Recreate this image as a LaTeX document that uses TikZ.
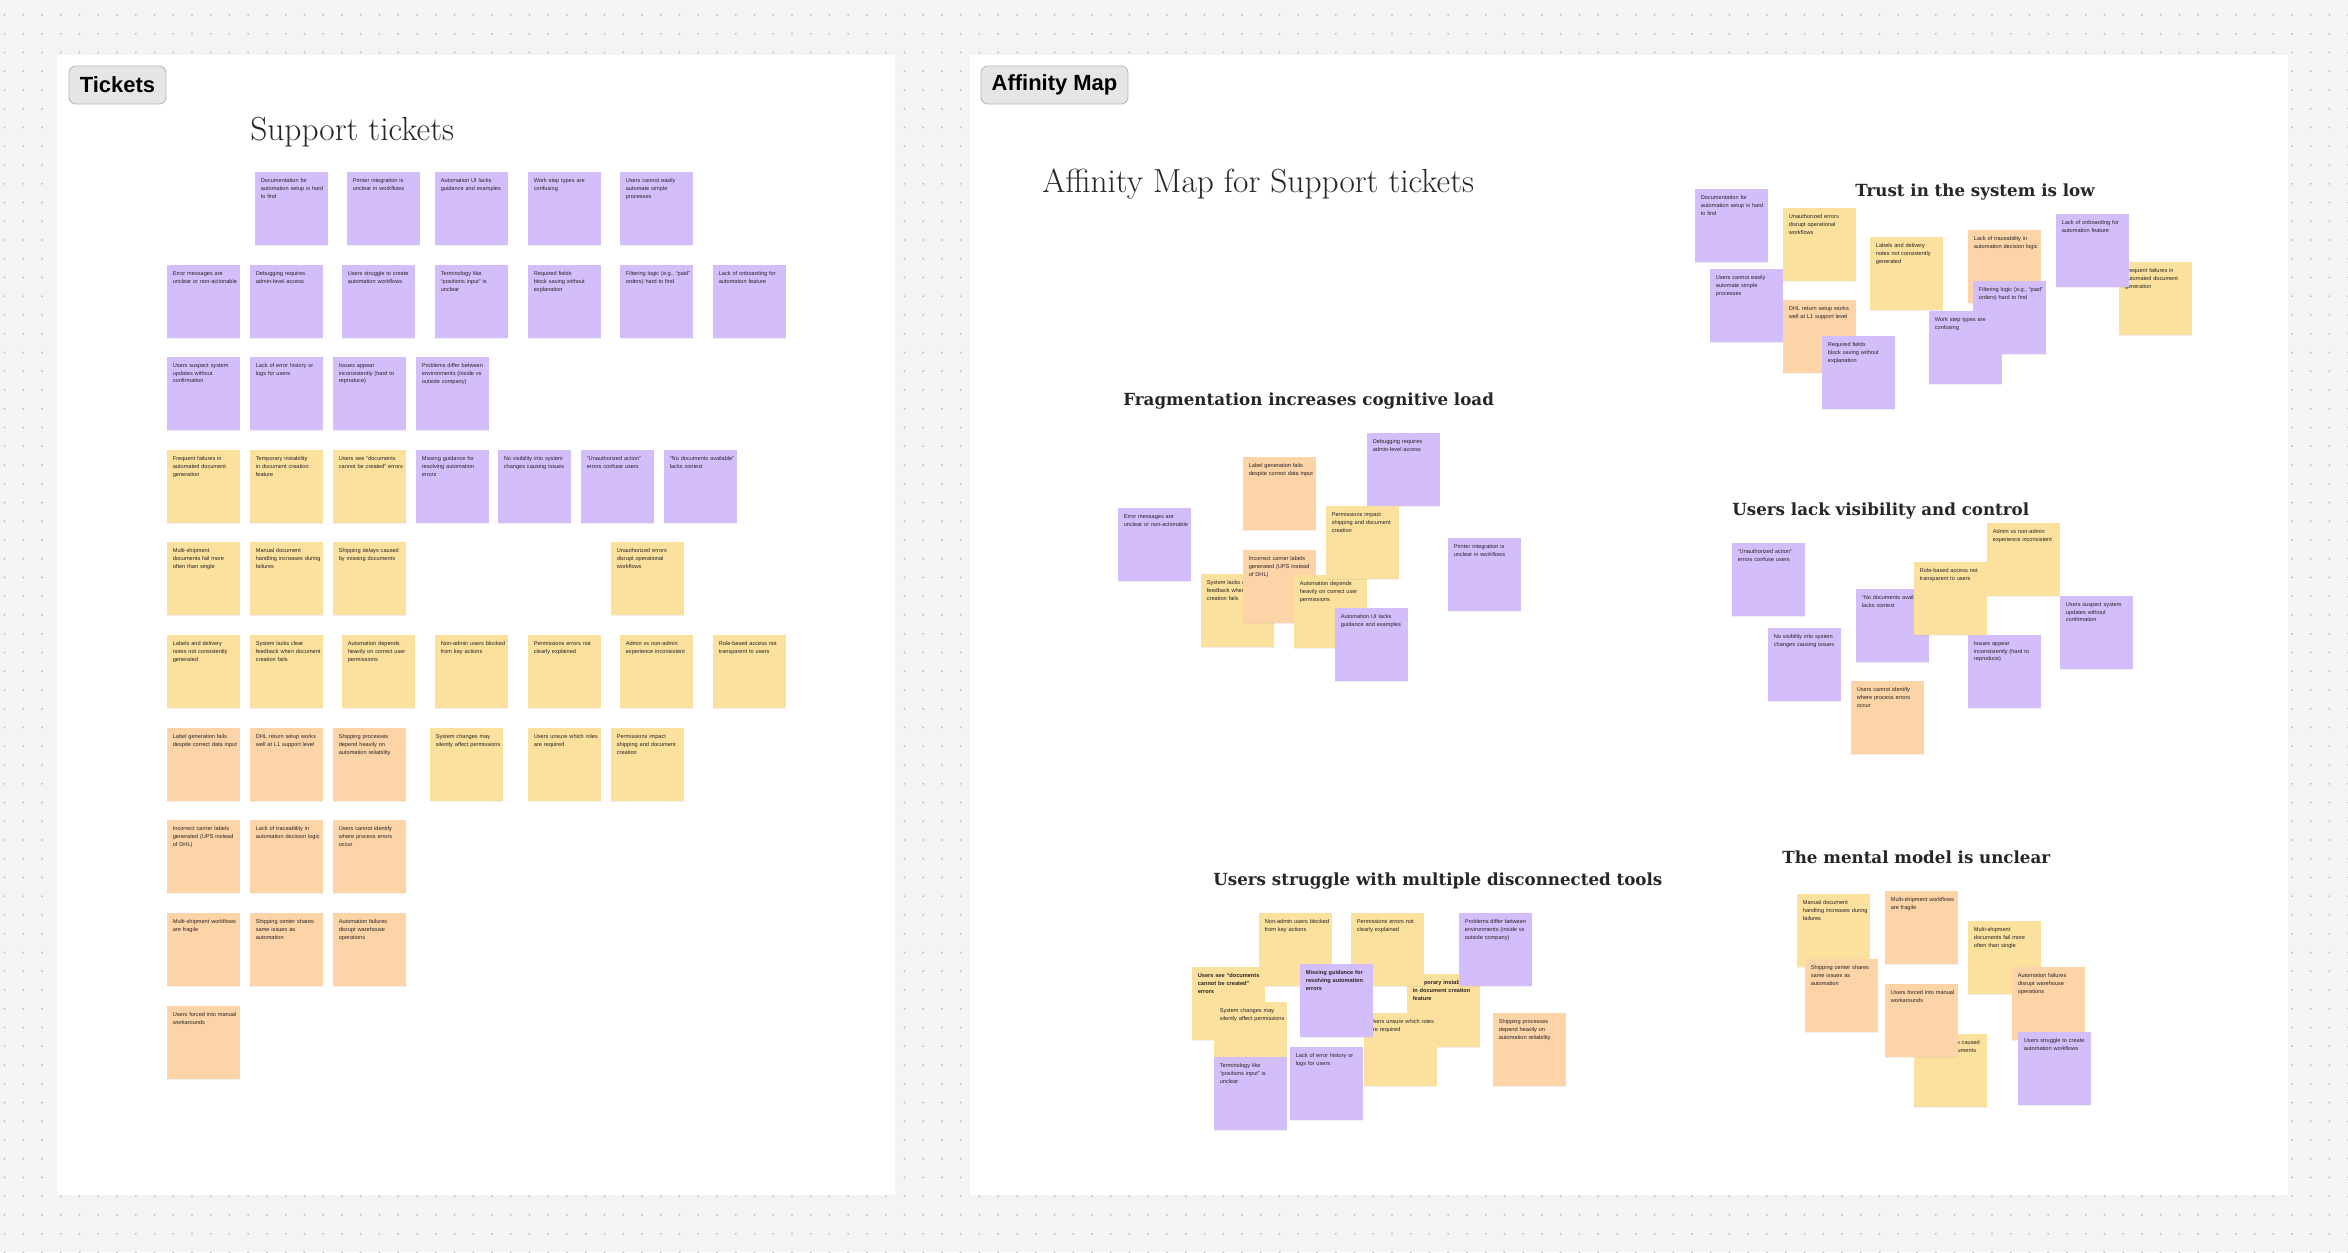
\documentclass[tikz,border=0pt]{standalone}
\usepackage{fontspec}
\newfontfamily\notefont{Liberation Sans}
\newfontfamily\tagfont{Liberation Sans}
\newfontfamily\headfont{DejaVu Serif}
\usetikzlibrary{shadows}
\hyphenpenalty=10000
\exhyphenpenalty=10000

\definecolor{bggray}{HTML}{F4F4F4}
\definecolor{dotgray}{HTML}{C4C4C4}
\definecolor{purp}{HTML}{D3BEFB}
\definecolor{yell}{HTML}{FCE09E}
\definecolor{orng}{HTML}{FDD3A8}
\definecolor{tagfill}{HTML}{E6E6E6}
\definecolor{tagline}{HTML}{B8B8B8}
\definecolor{ink}{HTML}{262626}

\tikzset{
  stickynote/.style={anchor=north west, minimum width=1.46cm, minimum height=1.46cm, inner sep=0pt,
    drop shadow={shadow xshift=0pt, shadow yshift=-0.6pt, opacity=0.12}},
  notetext/.style={anchor=north west, inner sep=0pt, text width=37.2pt, align=left, text=ink,
    font=\notefont\fontsize{3.2}{4.3}\selectfont},
  frametag/.style={rounded corners=0.14cm, fill=tagfill, draw=tagline, line width=0.5pt,
    minimum height=0.76cm, font=\tagfont\bfseries\fontsize{12.5}{14}\selectfont},
  boardtitle/.style={anchor=base west, inner sep=0pt, text=ink, font=\fontsize{19}{22}\selectfont},
  clustertitle/.style={anchor=base west, inner sep=0pt, text=ink, font=\headfont\bfseries\fontsize{9.5}{11}\selectfont},
}

% name, x, y, colour, text
\newcommand{\sticky}[5]{%
  \node[stickynote, fill=#4] (#1) at (#2,#3) {};
  \node[notetext] (#1-t) at ([xshift=0.11cm, yshift=-0.13cm]#1.north west) {#5};
}

\begin{document}
\begin{tikzpicture}[x=0.02cm, y=-0.02cm]
 \useasboundingbox (0,0) rectangle (2348,1252);
 % board with dot grid
 \fill[bggray] (0,0) rectangle (2348,1252);
 \foreach \j in {0,...,66}
   \fill[dotgray] \foreach \i in {0,...,125} {(4.5+18.75*\i,15+18.75*\j) circle (1.1)};
 % frames
 \fill[white] (57,55) rectangle (895,1195);
 \fill[white] (970,55) rectangle (2288,1195);
 \node[frametag, minimum width=1.94cm] (ticketsTag) at (117.5,85) {Tickets};
 \node[frametag, minimum width=2.94cm] (affinityTag) at (1054.5,85) {Affinity Map};
 \node[boardtitle] (ticketsTitle) at (250,140) {Support tickets};
 \node[boardtitle] (affinityTitle) at (1042,192) {Affinity Map for Support tickets};

 % tickets, row by row
 \sticky{tk1}{255}{172}{purp}{Documentation for automation setup is hard to find}
 \sticky{tk2}{347}{172}{purp}{Printer integration is unclear in workflows}
 \sticky{tk3}{435}{172}{purp}{Automation UI lacks guidance and examples}
 \sticky{tk4}{528}{172}{purp}{Work step types are confusing}
 \sticky{tk5}{620}{172}{purp}{Users cannot easily automate simple processes}

 \sticky{tk6}{167}{265}{purp}{Error messages are unclear or non-actionable}
 \sticky{tk7}{250}{265}{purp}{Debugging requires admin-level access}
 \sticky{tk8}{342}{265}{purp}{Users struggle to create automation workflows}
 \sticky{tk9}{435}{265}{purp}{Terminology like “positions input” is unclear}
 \sticky{tk10}{528}{265}{purp}{Required fields block saving without explanation}
 \sticky{tk11}{620}{265}{purp}{Filtering logic (e.g., “paid” orders) hard to find}
 \sticky{tk12}{713}{265}{purp}{Lack of onboarding for automation feature}

 \sticky{tk13}{167}{357}{purp}{Users suspect system updates without confirmation}
 \sticky{tk14}{250}{357}{purp}{Lack of error history or logs for users}
 \sticky{tk15}{333}{357}{purp}{Issues appear inconsistently (hard to reproduce)}
 \sticky{tk16}{416}{357}{purp}{Problems differ between environments (inside vs outside company)}

 \sticky{tk17}{167}{450}{yell}{Frequent failures in automated document generation}
 \sticky{tk18}{250}{450}{yell}{Temporary instability in document creation feature}
 \sticky{tk19}{333}{450}{yell}{Users see “documents cannot be created” errors}
 \sticky{tk20}{416}{450}{purp}{Missing guidance for resolving automation errors}
 \sticky{tk21}{498}{450}{purp}{No visibility into system changes causing issues}
 \sticky{tk22}{581}{450}{purp}{“Unauthorized action” errors confuse users}
 \sticky{tk23}{664}{450}{purp}{“No documents available” lacks context}

 \sticky{tk24}{167}{542}{yell}{Multi-shipment documents fail more often than single}
 \sticky{tk25}{250}{542}{yell}{Manual document handling increases during failures}
 \sticky{tk26}{333}{542}{yell}{Shipping delays caused by missing documents}
 \sticky{tk27}{611}{542}{yell}{Unauthorized errors disrupt operational workflows}

 \sticky{tk28}{167}{635}{yell}{Labels and delivery notes not consistently generated}
 \sticky{tk29}{250}{635}{yell}{System lacks clear feedback when document creation fails}
 \sticky{tk30}{342}{635}{yell}{Automation depends heavily on correct user permissions}
 \sticky{tk31}{435}{635}{yell}{Non-admin users blocked from key actions}
 \sticky{tk32}{528}{635}{yell}{Permissions errors not clearly explained}
 \sticky{tk33}{620}{635}{yell}{Admin vs non-admin experience inconsistent}
 \sticky{tk34}{713}{635}{yell}{Role-based access not transparent to users}

 \sticky{tk35}{167}{728}{orng}{Label generation fails despite correct data input}
 \sticky{tk36}{250}{728}{orng}{DHL return setup works well at L1 support level}
 \sticky{tk37}{333}{728}{orng}{Shipping processes depend heavily on automation reliability}
 \sticky{tk38}{430}{728}{yell}{System changes may silently affect permissions}
 \sticky{tk39}{528}{728}{yell}{Users unsure which roles are required}
 \sticky{tk40}{611}{728}{yell}{Permissions impact shipping and document creation}

 \sticky{tk41}{167}{820}{orng}{Incorrect carrier labels generated (UPS instead of DHL)}
 \sticky{tk42}{250}{820}{orng}{Lack of traceability in automation decision logic}
 \sticky{tk43}{333}{820}{orng}{Users cannot identify where process errors occur}

 \sticky{tk44}{167}{913}{orng}{Multi-shipment workflows are fragile}
 \sticky{tk45}{250}{913}{orng}{Shipping center shares same issues as automation}
 \sticky{tk46}{333}{913}{orng}{Automation failures disrupt warehouse operations}

 \sticky{tk47}{167}{1006}{orng}{Users forced into manual workarounds}

 % cluster: trust
 \node[clustertitle] (trustTitle) at (1855,196) {Trust in the system is low};
 \sticky{tr1}{1695}{189}{purp}{Documentation for automation setup is hard to find}
 \sticky{tr2}{1783}{208}{yell}{Unauthorized errors disrupt operational workflows}
 \sticky{tr3}{1710}{269}{purp}{Users cannot easily automate simple processes}
 \sticky{tr4}{1783}{300}{orng}{DHL return setup works well at L1 support level}
 \sticky{tr5}{1822}{336}{purp}{Required fields block saving without explanation}
 \sticky{tr6}{1870}{237}{yell}{Labels and delivery notes not consistently generated}
 \sticky{tr7}{1968}{230}{orng}{Lack of traceability in automation decision logic}
 \sticky{tr8}{1973}{281}{purp}{Filtering logic (e.g., “paid” orders) hard to find}
 \sticky{tr9}{1929}{311}{purp}{Work step types are confusing}
 \sticky{tr10}{2119}{262}{yell}{Frequent failures in automated document generation}
 \sticky{tr11}{2056}{214}{purp}{Lack of onboarding for automation feature}

 % cluster: fragmentation
 \node[clustertitle] (fragTitle) at (1123,405) {Fragmentation increases cognitive load};
 \sticky{fr1}{1118}{508}{purp}{Error messages are unclear or non-actionable}
 \sticky{fr2}{1243}{457}{orng}{Label generation fails despite correct data input}
 \sticky{fr3}{1367}{433}{purp}{Debugging requires admin-level access}
 \sticky{fr4}{1201}{574}{yell}{System lacks clear feedback when document creation fails}
 \sticky{fr5}{1243}{550}{orng}{Incorrect carrier labels generated (UPS instead of DHL)}
 \sticky{fr6}{1294}{575}{yell}{Automation depends heavily on correct user permissions}
 \sticky{fr7}{1326}{506}{yell}{Permissions impact shipping and document creation}
 \sticky{fr8}{1335}{608}{purp}{Automation UI lacks guidance and examples}
 \sticky{fr9}{1448}{538}{purp}{Printer integration is unclear in workflows}

 % cluster: visibility
 \node[clustertitle] (visTitle) at (1732,515) {Users lack visibility and control};
 \sticky{vi1}{1732}{543}{purp}{“Unauthorized action” errors confuse users}
 \sticky{vi2}{1768}{628}{purp}{No visibility into system changes causing issues}
 \sticky{vi3}{1856}{589}{purp}{“No documents available” lacks context}
 \sticky{vi4}{1914}{562}{yell}{Role-based access not transparent to users}
 \sticky{vi5}{1987}{523}{yell}{Admin vs non-admin experience inconsistent}
 \sticky{vi6}{2060}{596}{purp}{Users suspect system updates without confirmation}
 \sticky{vi7}{1968}{635}{purp}{Issues appear inconsistently (hard to reproduce)}
 \sticky{vi8}{1851}{681}{orng}{Users cannot identify where process errors occur}

 % cluster: tools
 \node[clustertitle] (toolsTitle) at (1213,885) {Users struggle with multiple disconnected tools};
 \sticky{st1}{1259}{913}{yell}{Non-admin users blocked from key actions}
 \sticky{st2}{1407}{974}{yell}{\bfseries Temporary instability in document creation feature}
 \sticky{st3}{1351}{913}{yell}{Permissions errors not clearly explained}
 \sticky{st4}{1459}{913}{purp}{Problems differ between environments (inside vs outside company)}
 \sticky{st5}{1192}{967}{yell}{\bfseries Users see “documents cannot be created” errors}
 \sticky{st6}{1214}{1002}{yell}{System changes may silently affect permissions}
 \sticky{st7}{1364}{1013}{yell}{Users unsure which roles are required}
 \sticky{st8}{1300}{964}{purp}{\bfseries Missing guidance for resolving automation errors}
 \sticky{st9}{1214}{1057}{purp}{Terminology like “positions input” is unclear}
 \sticky{st10}{1290}{1047}{purp}{Lack of error history or logs for users}
 \sticky{st11}{1493}{1013}{orng}{Shipping processes depend heavily on automation reliability}

 % cluster: mental model
 \node[clustertitle] (mentalTitle) at (1782,863) {The mental model is unclear};
 \sticky{mm1}{1797}{894}{yell}{Manual document handling increases during failures}
 \sticky{mm2}{1885}{891}{orng}{Multi-shipment workflows are fragile}
 \sticky{mm3}{1805}{959}{orng}{Shipping center shares same issues as automation}
 \sticky{mm4}{1968}{921}{yell}{Multi-shipment documents fail more often than single}
 \sticky{mm5}{2012}{967}{orng}{Automation failures disrupt warehouse operations}
 \sticky{mm6}{1914}{1034}{yell}{Shipping delays caused by missing documents}
 \sticky{mm7}{1885}{984}{orng}{Users forced into manual workarounds}
 \sticky{mm8}{2018}{1032}{purp}{Users struggle to create automation workflows}
\end{tikzpicture}
\end{document}
